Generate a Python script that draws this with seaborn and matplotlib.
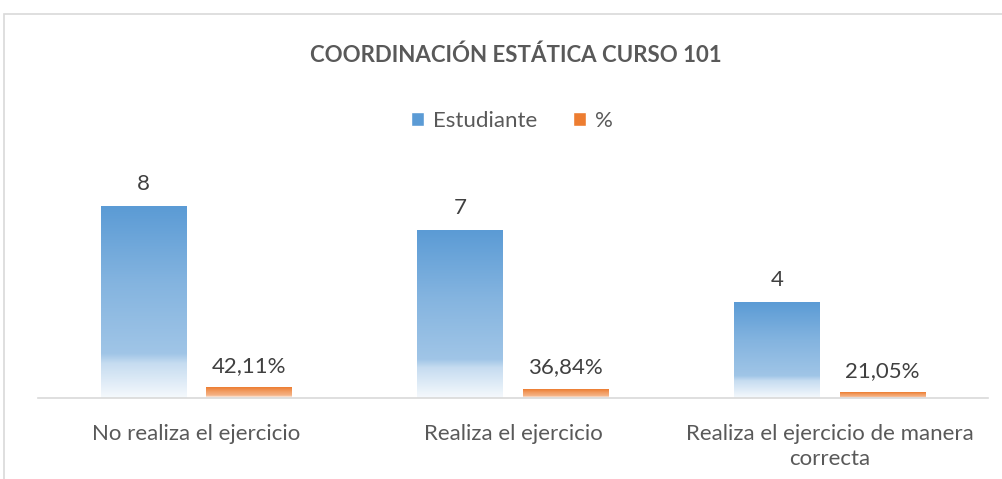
"""Coordinación estática curso 101 - grouped bar chart with Excel-like gradient fills."""

import matplotlib.pyplot as plt
import numpy as np
import pandas as pd
import seaborn as sns
from matplotlib.colors import LinearSegmentedColormap, to_rgb
from matplotlib.patches import Patch, Rectangle

categorias = ["No realiza el ejercicio", "Realiza el ejercicio",
              "Realiza el ejercicio de manera\ncorrecta"]
estudiante = [8, 7, 4]
porcentaje = [0.4211, 0.3684, 0.2105]
series = ["Estudiante", "%"]

TEXT = "#595959"
GRID = "#D9D9D9"
BLUE = "#5B9BD5"
ORANGE = "#ED7D31"

df = pd.DataFrame({
    "Categoria": categorias * 2,
    "Serie": [series[0]] * 3 + [series[1]] * 3,
    "Valor": estudiante + porcentaje,
})

sns.set_style("white")
plt.rcParams["font.family"] = ["Lato", "DejaVu Sans"]

fig = plt.figure(figsize=(10.03, 4.79), dpi=100)
ax = fig.add_axes([38 / 1003, 81 / 479, 950 / 1003, 240 / 479])

sns.barplot(data=df, x="Categoria", y="Valor", hue="Serie", order=categorias,
            hue_order=series, palette=[BLUE, ORANGE], width=0.667, gap=0.19,
            legend=False, ax=ax)


def gradient_cmap(color):
    r, g, b = to_rgb(color)
    tint = lambda f: (r + (1 - r) * f, g + (1 - g) * f, b + (1 - b) * f)
    # bottom (0) -> top (1)
    stops = [(0.0, tint(0.94)), (0.18, tint(0.65)), (0.23, tint(0.42)),
             (0.6, tint(0.25)), (1.0, tint(0.0))]
    return LinearSegmentedColormap.from_list("g", stops)


grad = np.linspace(0, 1, 256).reshape(-1, 1)
for i, patch in enumerate(ax.patches):
    color = BLUE if i < 3 else ORANGE
    x0, y0 = patch.get_x(), patch.get_y()
    w, h = patch.get_width(), patch.get_height()
    if h <= 0:
        continue
    patch.set_visible(False)
    ax.imshow(grad, cmap=gradient_cmap(color), origin="lower", aspect="auto",
              extent=(x0, x0 + w, y0, y0 + h), zorder=2)

# data labels
for i in range(len(categorias)):
    bl, op = ax.patches[i], ax.patches[i + 3]
    ax.text(bl.get_x() + bl.get_width() / 2, estudiante[i] + 0.68, str(estudiante[i]),
            ha="center", va="baseline", fontsize=16, color="#404040")
    lbl = f"{porcentaje[i] * 100:.2f}%".replace(".", ",")
    ax.text(op.get_x() + op.get_width() / 2, porcentaje[i] + 0.65, lbl,
            ha="center", va="baseline", fontsize=16, color="#404040")

ax.set_xlim(-0.5, 2.5)
ax.set_ylim(0, 10)
ax.set_xlabel("")
ax.set_ylabel("")
ax.set_yticks([])
ax.tick_params(axis="x", length=0, pad=19, labelsize=16, labelcolor=TEXT)
for lab in ax.get_xticklabels():
    lab.set_linespacing(1.3)
for s in ["top", "right", "left"]:
    ax.spines[s].set_visible(False)
ax.spines["bottom"].set_color(GRID)
ax.spines["bottom"].set_linewidth(1.2)

fig.text(516 / 1003, 1 - 55 / 479, "COORDINACIÓN ESTÁTICA CURSO 101",
         ha="center", va="center", fontsize=16, fontweight="bold", color=TEXT)

handles = [Patch(facecolor=BLUE), Patch(facecolor=ORANGE)]
fig.legend(handles, series, loc="center", bbox_to_anchor=(512 / 1003, 1 - 121 / 479),
           ncol=2, frameon=False, fontsize=16, labelcolor=TEXT, handlelength=0.6,
           handleheight=0.6, handletextpad=0.4, columnspacing=1.6)

# chart area border (top and left edges visible)
fig.add_artist(Rectangle((4 / 1003, -0.1), 1.2, 1.1 - 14 / 479, transform=fig.transFigure,
                         fill=False, edgecolor=GRID, linewidth=1.2))

fig.savefig("out.png", dpi=100)
